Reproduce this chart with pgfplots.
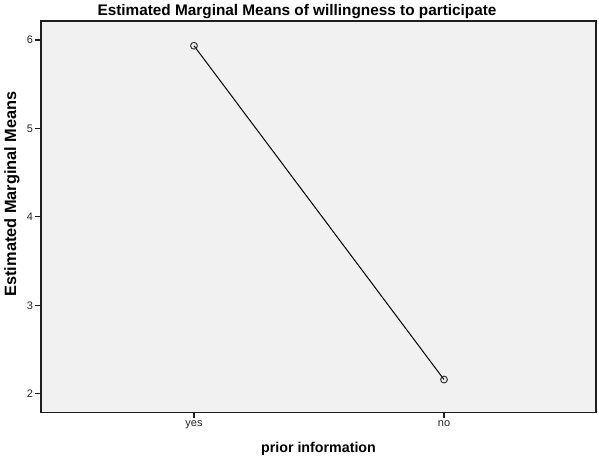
\documentclass[border=0pt]{standalone}
\usepackage{fontspec}
\setmainfont{Liberation Sans}
\usepackage{pgfplots}
\pgfplotsset{compat=1.18}
\usetikzlibrary{calc}
\definecolor{bgc}{RGB}{240,241,240}
\definecolor{axc}{RGB}{30,30,30}
\begin{document}
\begin{tikzpicture}
\begin{axis}[
  name=ax,
  scale only axis,
  width=555bp, height=391.7bp,
  xmin=-0.612, xmax=1.608,
  ymin=1.785, ymax=6.215,
  xtick={0,1}, xticklabels={yes,no},
  ytick={2,3,4,5,6},
  tick pos=left,
  tick align=outside,
  major tick length=5.5bp,
  tick style={axc, line width=1.2bp},
  axis line style={axc, line width=1.3bp},
  axis background/.style={fill=bgc},
  /pgf/number format/assume math mode=true,
  ticklabel style={font=\fontsize{11}{13}\selectfont, text=black!85},
  xticklabel style={yshift=1bp},
  yticklabel style={xshift=1bp},
  every axis title shift=0pt,
  title={\bfseries Estimated Marginal Means of willingness to participate},
  title style={font=\fontsize{15.4}{17}\selectfont, inner sep=0pt, at={(axis description cs:0.4613,1.0153)}, anchor=base},
  xlabel={\bfseries prior information},
  xlabel style={font=\fontsize{14.3}{16}\selectfont, inner sep=0pt, at={(axis description cs:0.5,0)}, anchor=base, yshift=-40bp},
  ylabel={\bfseries Estimated Marginal Means},
  ylabel style={font=\fontsize{16.4}{18}\selectfont, inner sep=0pt, at={(axis description cs:-0.045,0.5587)}, anchor=base},
  clip=false,
]
\addplot[black, line width=1bp, mark=o, mark size=3.4bp, mark options={black!80, line width=1bp}]
  coordinates {(0,5.935) (1,2.16)};
\end{axis}
\pgfresetboundingbox
\path ($(ax.south west)+(-41bp,-48.3bp)$) rectangle ($(ax.north east)+(3bp,21bp)$);
\end{tikzpicture}
\end{document}
